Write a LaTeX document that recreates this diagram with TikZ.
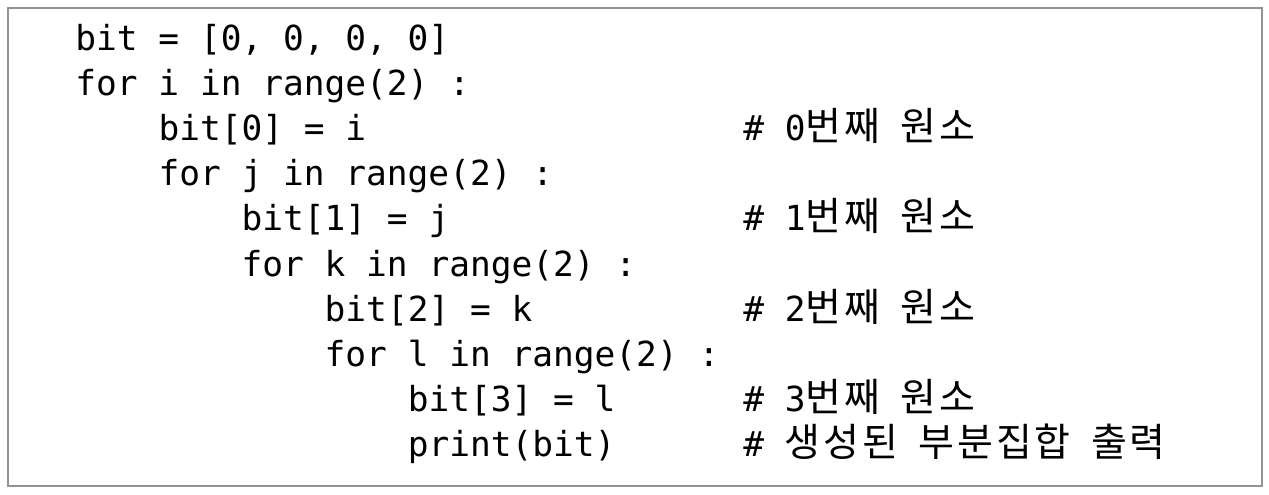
\documentclass[tikz,border=0pt]{standalone}
\usepackage{fontspec}
\usepackage{tikz}
\newfontfamily\codefont{DejaVu Sans Mono}
\newfontfamily\kr[LetterSpace=7]{Noto Sans CJK KR}
\newcommand\hangul[1]{{\kr\fontsize{19.5}{22}\selectfont #1}}

\begin{document}
\begin{tikzpicture}[x=0.5pt,y=-0.5pt,
		code/.style={anchor=base west,inner sep=0pt,font=\codefont\fontsize{17.25}{20}\selectfont},
		note/.style={code}]
				\useasboundingbox (0,0) rectangle (1269,494);
				\draw[line width=1pt,color=gray!85] (8,8) rectangle (1262,486);
				
				% code lines
				\node[code] (l1) at (75,50) {bit = [0, 0, 0, 0]};
				\node[code] (l2) at (75,95.2) {for i in range(2) :};
				\node[code] (l3) at (158.1,140.4) {bit[0] = i};
				\node[code] (l4) at (158.1,185.6) {for j in range(2) :};
				\node[code] (l5) at (241.2,230.8) {bit[1] = j};
				\node[code] (l6) at (241.2,276) {for k in range(2) :};
				\node[code] (l7) at (324.3,321.2) {bit[2] = k};
				\node[code] (l8) at (324.3,366.4) {for l in range(2) :};
				\node[code] (l9) at (407.4,411.6) {bit[3] = l};
				\node[code] (l10) at (407.4,456.8) {print(bit)};
				
				% comments
				\node[note] (c3) at (743,140.4) {\# 0\hangul{번째} \hangul{원소}};
				\node[note] (c5) at (743,230.8) {\# 1\hangul{번째} \hangul{원소}};
				\node[note] (c7) at (743,321.2) {\# 2\hangul{번째} \hangul{원소}};
				\node[note] (c9) at (743,411.6) {\# 3\hangul{번째} \hangul{원소}};
				\node[note] (c10) at (743,456.8) {\# \hangul{생성된} \hangul{부분집합} \hangul{출력}};
			\end{tikzpicture}
\end{document}
